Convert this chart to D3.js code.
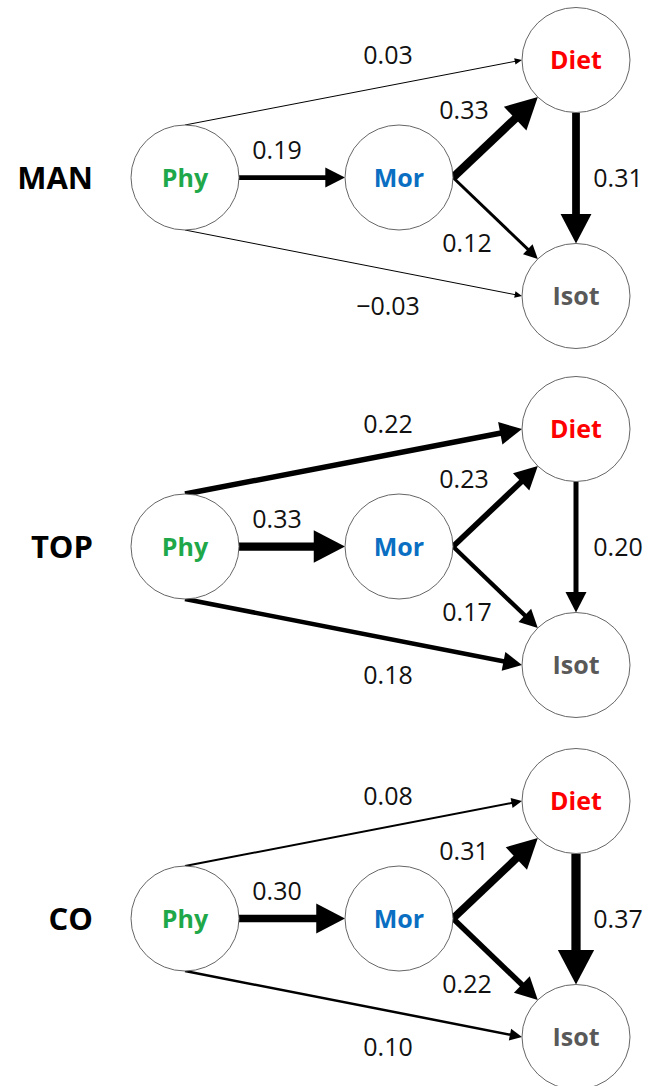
<!DOCTYPE html>
<html>
<head>
<meta charset="utf-8">
<script src="https://cdn.jsdelivr.net/npm/d3@7"></script>
<style>
  body { margin: 0; background: #fff; }
  text { font-family: "Open Sans", "Noto Sans", sans-serif; }
</style>
</head>
<body>
<script>
// Data
var groups = ['MAN', 'TOP', 'CO'];
var nodes = ['Phy', 'Mor', 'Diet', 'Isot'];
var pathFrom = ['Phy', 'Phy', 'Phy', 'Mor', 'Mor', 'Diet'];
var pathTo   = ['Diet', 'Mor', 'Isot', 'Diet', 'Isot', 'Isot'];
var coefMAN = [0.03, 0.19, -0.03, 0.33, 0.12, 0.31];
var coefTOP = [0.22, 0.33, 0.18, 0.23, 0.17, 0.20];
var coefCO  = [0.08, 0.30, 0.10, 0.31, 0.22, 0.37];
var coefs = [coefMAN, coefTOP, coefCO];

// Layout
var width = 660;
var height = 1086;
var rx = 54;
var ry = 52.5;
var nodeColors = { Phy: '#1fa84a', Mor: '#0a6fc2', Diet: '#ff0000', Isot: '#595959' };

var colX = d3.scaleOrdinal().domain(nodes).range([185, 399, 576, 576]);
var rowY = d3.scaleOrdinal().domain(nodes).range([0, 0, -117.5, 118.5]);
var panelY = d3.scaleOrdinal().domain(groups).range([177.5, 546.5, 918.5]);
var strokeScale = d3.scaleLinear().domain([0, 0.4]).range([0, 10]);
var fmt = d3.format('.2f');

// angle (deg) where each path leaves / enters its node
var outAngle = [-90, 0, 90, 0, 0, 90];
var inAngle  = [180, 180, 180, 135, 225, 270];
// label anchor: x, and y relative to the panel centre
var labelX  = [388, 277, 388, 464, 467, 618];
var labelDY = [-122.5, -28, 128.5, -67.5, 65, 0];

var svg = d3.select('body').append('svg')
    .attr('width', width)
    .attr('height', height);

function portPoint(node, cy, angle) {
    var a = angle * Math.PI / 180;
    return [colX(node) + rx * Math.cos(a), cy + rowY(node) + ry * Math.sin(a)];
}

groups.forEach(function(group, gi) {
    var cy = panelY(group);
    var g = svg.append('g').attr('class', 'panel-' + group);

    g.append('text')
        .attr('x', 93)
        .attr('y', cy)
        .attr('dy', '0.36em')
        .attr('text-anchor', 'end')
        .attr('font-size', 31)
        .attr('font-weight', 700)
        .attr('fill', '#000')
        .text(group);

    var edges = coefs[gi].map(function(c, i) {
        var s = portPoint(pathFrom[i], cy, outAngle[i]);
        var t = portPoint(pathTo[i], cy, inAngle[i]);
        var w = Math.max(1, strokeScale(Math.abs(c)));
        var dx = t[0] - s[0], dy = t[1] - s[1];
        var len = Math.sqrt(dx * dx + dy * dy);
        var ux = dx / len, uy = dy / len;
        var headL = 3.3 * w + 4;
        var headW = 3.6 * w + 3;
        var bx = t[0] - ux * headL, by = t[1] - uy * headL;
        return { c: c, i: i, s: s, t: t, w: w, ux: ux, uy: uy, bx: bx, by: by, headW: headW };
    });

    var arrows = g.selectAll('g.arrow').data(edges).enter().append('g').attr('class', 'arrow');

    arrows.append('line')
        .attr('x1', function(d) { return d.s[0]; })
        .attr('y1', function(d) { return d.s[1]; })
        .attr('x2', function(d) { return d.bx + d.ux * 1; })
        .attr('y2', function(d) { return d.by + d.uy * 1; })
        .attr('stroke', '#000')
        .attr('stroke-width', function(d) { return d.w; });

    arrows.append('path')
        .attr('d', function(d) {
            var px = -d.uy, py = d.ux, hw = d.headW / 2;
            return 'M' + d.t[0] + ',' + d.t[1] +
                'L' + (d.bx + px * hw) + ',' + (d.by + py * hw) +
                'L' + (d.bx - px * hw) + ',' + (d.by - py * hw) + 'Z';
        })
        .attr('fill', '#000');

    var nodeG = g.selectAll('g.node').data(nodes).enter().append('g').attr('class', 'node');

    nodeG.append('ellipse')
        .attr('cx', function(d) { return colX(d); })
        .attr('cy', function(d) { return cy + rowY(d); })
        .attr('rx', rx)
        .attr('ry', ry)
        .attr('fill', '#fff')
        .attr('stroke', '#666')
        .attr('stroke-width', 1);

    nodeG.append('text')
        .attr('x', function(d) { return colX(d); })
        .attr('y', function(d) { return cy + rowY(d); })
        .attr('dy', '0.36em')
        .attr('text-anchor', 'middle')
        .attr('font-size', 25)
        .attr('font-weight', 700)
        .attr('fill', function(d) { return nodeColors[d]; })
        .text(function(d) { return d; });

    g.selectAll('text.coef').data(edges).enter().append('text')
        .attr('class', 'coef')
        .attr('x', function(d) { return labelX[d.i]; })
        .attr('y', function(d) { return cy + labelDY[d.i]; })
        .attr('dy', '0.36em')
        .attr('text-anchor', 'middle')
        .attr('font-size', 25)
        .attr('fill', '#111')
        .text(function(d) { return fmt(d.c); });
});
</script>
</body>
</html>
